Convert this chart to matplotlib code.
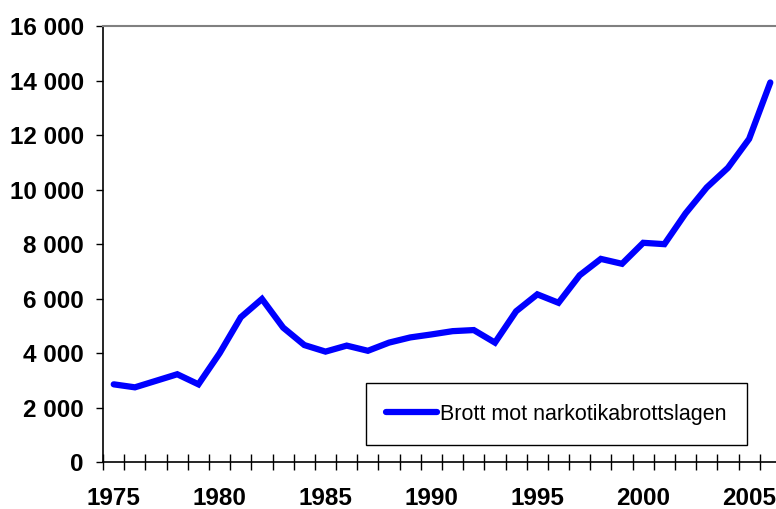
import matplotlib
matplotlib.use('Agg')
import matplotlib.pyplot as plt
from matplotlib.ticker import FixedLocator, FuncFormatter

years = list(range(1975, 2007))
brott = [2860, 2750, 2990, 3230, 2860, 4000, 5320, 5990, 4940, 4300,
         4060, 4280, 4090, 4390, 4580, 4690, 4810, 4850, 4390, 5540,
         6160, 5850, 6860, 7460, 7280, 8050, 8000, 9130, 10080, 10800,
         11860, 13930]
label_years = [1975, 1980, 1985, 1990, 1995, 2000, 2005]
y_ticks = [0, 2000, 4000, 6000, 8000, 10000, 12000, 14000, 16000]

plt.rcParams['font.family'] = ['Liberation Sans', 'DejaVu Sans']

fig = plt.figure(figsize=(7.76, 5.09), dpi=100)
# plot area runs a little past the right edge of the picture, as in the original
ax = fig.add_axes([0.1329, 0.0917, 0.8734, 0.8572])

x = list(range(len(years)))
ax.plot(x, brott, color='#0000ff', linewidth=4.5, solid_capstyle='round',
        solid_joinstyle='miter', label='Brott mot narkotikabrottslagen')

ax.set_xlim(-0.5, len(years) - 0.5)
ax.set_ylim(0, 16000)

# category axis: labels every 5 years, tick marks between categories
ax.xaxis.set_major_locator(FixedLocator([years.index(y) for y in label_years]))
ax.set_xticklabels([str(y) for y in label_years])
ax.xaxis.set_minor_locator(FixedLocator([k - 0.5 for k in range(len(years))]))
ax.tick_params(axis='x', which='major', length=0, pad=18, labelsize=17.5)
ax.tick_params(axis='x', which='minor', direction='inout', length=11, width=1)

ax.yaxis.set_major_locator(FixedLocator(y_ticks))
ax.yaxis.set_major_formatter(FuncFormatter(lambda v, p: f'{int(v):,}'.replace(',', ' ')))
ax.tick_params(axis='y', direction='out', length=5, width=1, pad=9, labelsize=17.5)

for lab in ax.get_xticklabels() + ax.get_yticklabels():
    lab.set_fontweight('bold')

ax.spines['right'].set_visible(False)
ax.spines['top'].set_color('#808080')
ax.spines['top'].set_linewidth(1.5)
ax.spines['left'].set_linewidth(1.2)
ax.spines['bottom'].set_linewidth(1.2)

leg = ax.legend(loc='center', bbox_to_anchor=(0.669, 0.110), fontsize=15.5,
                fancybox=False, framealpha=1, edgecolor='black',
                borderpad=0.95, handlelength=2.35, handletextpad=0.17)
leg.get_frame().set_linewidth(1.0)

fig.savefig('out.png', dpi=100)
